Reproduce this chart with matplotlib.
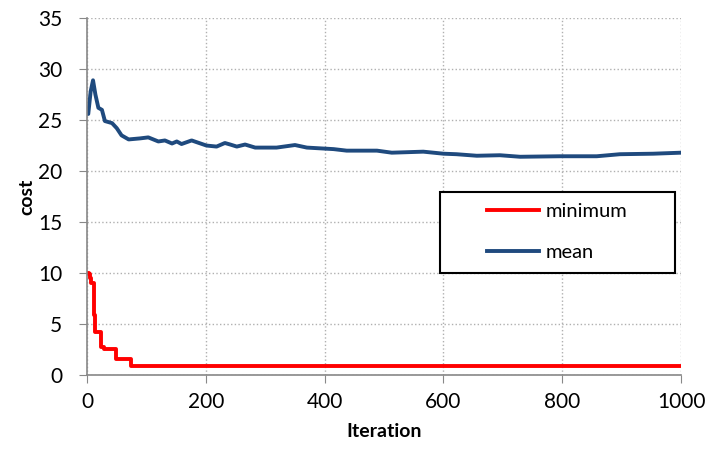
import matplotlib
matplotlib.use("Agg")
import matplotlib.pyplot as plt
from matplotlib.patches import Rectangle

# === data ===
min_iter = [0, 3, 5, 7, 12, 14, 23, 28, 49, 74, 1000]
min_cost = [10.0, 9.9, 9.5, 9.0, 5.9, 4.2, 2.75, 2.6, 1.6, 0.85, 0.85]

mean_iter = [0, 2, 6, 10, 14, 19, 25, 30, 42, 50, 58, 70, 89, 103, 120, 131, 143,
             151, 159, 176, 201, 218, 232, 241, 252, 266, 283, 319, 350, 370, 415,
             437, 488, 513, 566, 600, 622, 656, 695, 729, 796, 858, 897, 953, 1000]
mean_cost = [25.6, 25.6, 27.8, 28.9, 27.5, 26.2, 26.0, 24.9, 24.7, 24.2, 23.5, 23.1,
             23.2, 23.3, 22.9, 23.0, 22.7, 22.9, 22.65, 23.0, 22.5, 22.4, 22.75,
             22.6, 22.4, 22.6, 22.3, 22.3, 22.55, 22.3, 22.15, 22.0, 22.0, 21.8,
             21.9, 21.7, 21.65, 21.5, 21.55, 21.4, 21.45, 21.45, 21.65, 21.7, 21.8]

x_ticks = [0, 200, 400, 600, 800, 1000]
y_ticks = [0, 5, 10, 15, 20, 25, 30, 35]

plt.rcParams['font.family'] = ['Lato', 'DejaVu Sans']

W, H = 708, 463
fig = plt.figure(figsize=(W / 100, H / 100), dpi=100)
ax = fig.add_axes([0.123, 0.190, 0.839, 0.771])

ax.plot(min_iter, min_cost, color='#ff0000', lw=2.8, label='minimum',
        drawstyle='steps-post')
ax.plot(mean_iter, mean_cost, color='#1f4a7e', lw=2.8, label='mean')

ax.set_xlim(0, 1000)
ax.set_ylim(0, 35)
ax.set_xticks(x_ticks)
ax.set_yticks(y_ticks)
ax.tick_params(labelsize=15, color='#888888', length=6, direction='out')
ax.tick_params(axis='y', pad=12)
ax.tick_params(axis='x', pad=6)
ax.grid(True, color='#b0b0b0', linestyle=':', lw=1)
ax.set_axisbelow(True)

for side in ['top', 'right']:
    ax.spines[side].set_visible(False)
for side in ['left', 'bottom']:
    ax.spines[side].set_color('#888888')
    ax.spines[side].set_linewidth(1.2)

ax.set_xlabel('Iteration', fontsize=14, fontweight='bold', labelpad=8)
ax.set_ylabel('cost', fontsize=14, fontweight='bold', labelpad=2)

# legend box drawn separately so it can be wider than its contents
box = Rectangle((440 / W, 1 - 273 / H), 235 / W, 81 / H, transform=fig.transFigure,
                facecolor='white', edgecolor='black', lw=1.5, zorder=5, clip_on=False)
ax.add_patch(box)
leg = ax.legend(loc='center', bbox_to_anchor=(557 / W, 1 - 232 / H),
                bbox_transform=fig.transFigure, fontsize=14.5, frameon=False,
                handlelength=2.6, handletextpad=0.3, labelspacing=1.15,
                borderaxespad=0)
leg.set_zorder(6)

fig.savefig('out.png', dpi=100)
